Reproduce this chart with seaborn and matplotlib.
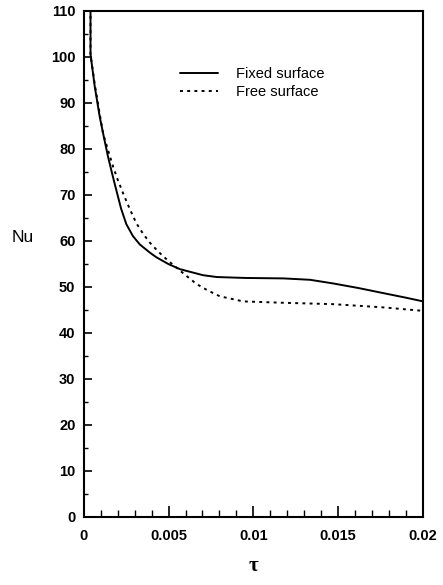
import matplotlib
matplotlib.use("Agg")
import matplotlib.pyplot as plt
import seaborn as sns
import pandas as pd
from matplotlib.ticker import MultipleLocator, FixedLocator

# Data
fixed_tau = [0.0004, 0.0004, 0.00065, 0.00094, 0.00120, 0.00143, 0.00168, 0.00192, 0.00220,
             0.00251, 0.00290, 0.00330, 0.00390, 0.00428, 0.00500, 0.00568, 0.00703, 0.00784,
             0.00950, 0.01177, 0.01334, 0.01471, 0.01620, 0.01766, 0.01900, 0.0200]
fixed_nu = [112, 100.5, 93.5, 87.0, 82.3, 78.3, 74.5, 71.0, 67.0,
            63.6, 61.0, 59.2, 57.4, 56.4, 54.9, 53.8, 52.5, 52.1,
            51.9, 51.8, 51.5, 50.7, 49.7, 48.6, 47.6, 46.8]

free_tau = [0.0004, 0.0004, 0.00065, 0.00090, 0.00114, 0.00145, 0.00173, 0.00200, 0.00232,
            0.00270, 0.00310, 0.00350, 0.00389, 0.00440, 0.00487, 0.00509, 0.00587, 0.00664,
            0.00730, 0.00803, 0.00940, 0.01177, 0.01471, 0.01766, 0.01982, 0.0200]
free_nu = [112, 100.5, 94.0, 88.5, 83.3, 79.5, 76.1, 73.3, 70.3,
           67.0, 63.8, 61.5, 59.6, 57.6, 56.0, 55.3, 52.9, 50.6,
           49.2, 47.9, 46.8, 46.5, 46.2, 45.5, 44.8, 44.7]

series_labels = ["Fixed surface", "Free surface"]
x_ticks = [0, 0.005, 0.01, 0.015, 0.02]
x_tick_labels = ["0", "0.005", "0.01", "0.015", "0.02"]
y_ticks = list(range(0, 111, 10))

df_fixed = pd.DataFrame({"tau": fixed_tau, "Nu": fixed_nu})
df_free = pd.DataFrame({"tau": free_tau, "Nu": free_nu})

sns.set_style("ticks")
plt.rcParams["font.family"] = ["Liberation Sans", "DejaVu Sans"]
plt.rcParams["text.color"] = "black"
plt.rcParams["xtick.color"] = "black"
plt.rcParams["ytick.color"] = "black"
plt.rcParams["xtick.labelcolor"] = "black"
plt.rcParams["ytick.labelcolor"] = "black"

fig = plt.figure(figsize=(4.43, 5.85), dpi=100)
ax = fig.add_axes([0.189, 0.1168, 0.766, 0.8649])

sns.lineplot(data=df_fixed, x="tau", y="Nu", ax=ax, color="black", linewidth=1.4,
             sort=False, estimator=None, label=series_labels[0])
sns.lineplot(data=df_free, x="tau", y="Nu", ax=ax, color="black", linewidth=1.4,
             linestyle=(0, (1.5, 2.2)), sort=False, estimator=None, label=series_labels[1])

ax.set_xlim(0, 0.02)
ax.set_ylim(0, 110)
ax.xaxis.set_major_locator(FixedLocator(x_ticks))
ax.set_xticklabels(x_tick_labels)
ax.xaxis.set_minor_locator(MultipleLocator(0.001))
ax.yaxis.set_major_locator(FixedLocator(y_ticks))
ax.yaxis.set_minor_locator(MultipleLocator(5))

ax.tick_params(axis="x", which="major", direction="in", length=8, width=1.2, pad=9,
               labelsize=10.5, colors="black")
ax.tick_params(axis="x", which="minor", direction="in", length=5, width=1.0, colors="black")
ax.tick_params(axis="y", which="major", direction="in", length=5.5, width=1.2, pad=6,
               labelsize=10.5, colors="black")
ax.tick_params(axis="y", which="minor", direction="in", length=3, width=1.0, colors="black")
for lab in ax.get_xticklabels() + ax.get_yticklabels():
    lab.set_fontweight("bold")

for sp in ax.spines.values():
    sp.set_visible(True)
    sp.set_linewidth(1.5)
    sp.set_color("black")

ax.set_xlabel("")
ax.set_ylabel("")
fig.text(22.5 / 443, 1 - 237 / 585, "Nu", ha="center", va="center", fontsize=12.5,
         color="black")
fig.text(253 / 443, 1 - 566 / 585, "τ", ha="center", va="center", fontsize=15,
         family=["Liberation Serif", "DejaVu Serif"], color="black", fontweight="semibold")

leg = ax.legend(loc="upper left", bbox_to_anchor=(0.284, 0.889), frameon=False,
                fontsize=10.5, handlelength=2.6, handletextpad=1.2, labelspacing=0.3,
                borderpad=0, borderaxespad=0)
for t in leg.get_texts():
    t.set_color("black")

fig.savefig("out.png", dpi=100)
